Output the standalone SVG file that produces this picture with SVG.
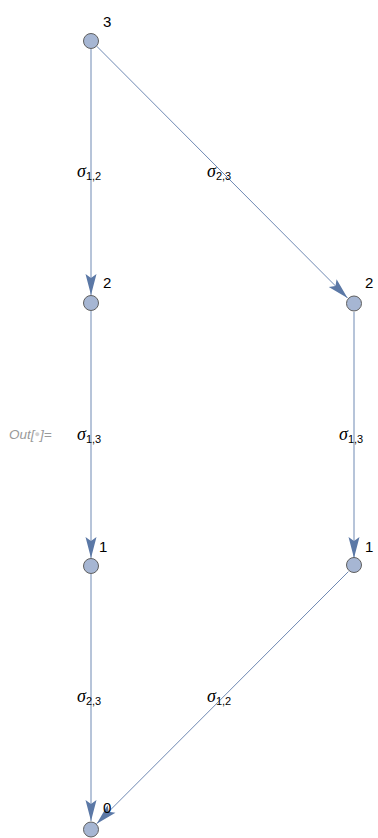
<svg xmlns="http://www.w3.org/2000/svg" width="378" height="838" viewBox="0 0 378 838">
<style>
.e{stroke:#6f89b3;stroke-width:1;fill:none;marker-end:url(#ah)}
.n{fill:#a6b6d3;stroke:#5f5f5f;stroke-width:1}
.nl{font-family:"Liberation Sans",Arial,sans-serif;font-size:15px;fill:#000}
.el{font-family:"Liberation Sans",Arial,sans-serif;font-size:13px;fill:#000}
.sg{font-family:"Liberation Serif","Times New Roman",serif;font-style:italic;font-size:18px}
.sb{font-size:11px}
.out{font-family:"Liberation Sans",Arial,sans-serif;font-style:italic;font-size:13.5px;fill:#999}
</style>
<defs>
<marker id="ah" markerUnits="userSpaceOnUse" markerWidth="24" markerHeight="14" viewBox="-22 -7 24 14" refX="0" refY="0" orient="auto">
<path d="M0,0 L-21,-5.5 L-17,0 L-21,5.5 Z" fill="#5b78a6"/>
</marker>
</defs>
<g id="edges">
<line class="e" x1="91" y1="49" x2="91" y2="295"/>
<line class="e" x1="96.7" y1="46.2" x2="347.5" y2="298"/>
<line class="e" x1="91" y1="311" x2="91" y2="558"/>
<line class="e" x1="354" y1="312" x2="354" y2="558"/>
<line class="e" x1="91" y1="574" x2="91" y2="821"/>
<line class="e" x1="348.4" y1="571.6" x2="96.7" y2="823.7"/>
</g>
<g id="edge-labels">
<text class="el" x="77" y="177"><tspan class="sg">σ</tspan><tspan class="sb" dy="3">1,2</tspan></text>
<text class="el" x="207" y="177"><tspan class="sg">σ</tspan><tspan class="sb" dy="3">2,3</tspan></text>
<text class="el" x="77" y="440"><tspan class="sg">σ</tspan><tspan class="sb" dy="3">1,3</tspan></text>
<text class="el" x="339" y="440"><tspan class="sg">σ</tspan><tspan class="sb" dy="3">1,3</tspan></text>
<text class="el" x="77" y="702"><tspan class="sg">σ</tspan><tspan class="sb" dy="3">2,3</tspan></text>
<text class="el" x="207" y="702"><tspan class="sg">σ</tspan><tspan class="sb" dy="3">1,2</tspan></text>
</g>
<g id="n3"><circle class="n" cx="91" cy="41" r="7.5"/><text class="nl" x="103" y="27">3</text></g>
<g id="n2a"><circle class="n" cx="91" cy="303" r="7.5"/><text class="nl" x="103" y="288">2</text></g>
<g id="n2b"><circle class="n" cx="354" cy="303.5" r="7.5"/><text class="nl" x="365" y="288">2</text></g>
<g id="n1a"><circle class="n" cx="91" cy="566" r="7.5"/><text class="nl" x="99" y="552">1</text></g>
<g id="n1b"><circle class="n" cx="354" cy="565" r="7.5"/><text class="nl" x="365" y="552">1</text></g>
<g id="n0"><circle class="n" cx="91" cy="829.5" r="7.5"/><text class="nl" x="103" y="813">0</text></g>
<text class="out" x="9" y="439">Out[<tspan fill="#d0d0d0" font-size="9" dy="-2">●</tspan><tspan dy="2">]=</tspan></text>
</svg>
